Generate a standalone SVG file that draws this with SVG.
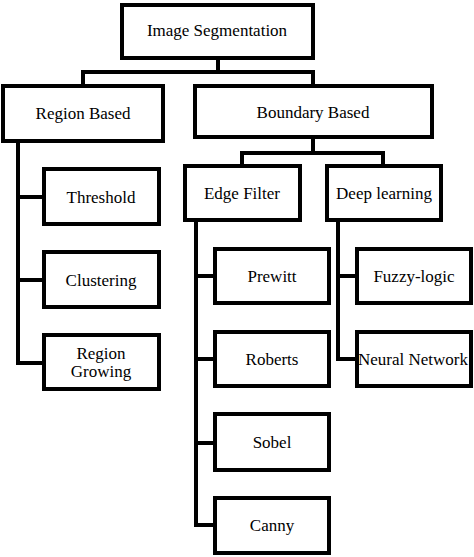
<svg xmlns="http://www.w3.org/2000/svg" width="474" height="557" viewBox="0 0 474 557">
<style>
.box{fill:#fff;stroke:#000;stroke-width:4}
.c{fill:none;stroke:#000;stroke-width:4;stroke-linecap:square;stroke-linejoin:miter}
.t{font-size:17px;fill:#000;text-anchor:middle}
</style>
<rect width="474" height="557" fill="#fff"/>
<g id="connectors">
<path class="c" d="M218 58V72M83 86V72H313V86"/>
<path class="c" d="M18 141V363H44M18 197H44M18 280H44"/>
<path class="c" d="M313 137V153M242 166V153H383V166"/>
<path class="c" d="M196 220V525H215M196 276H215M196 359H215M196 443H215"/>
<path class="c" d="M338 220V359H357M338 276H357"/>
</g>
<g class="t" font-family="'Liberation Serif', 'Times New Roman', 'DejaVu Serif', serif">
<g id="n-image-segmentation"><rect class="box" x="122" y="5" width="191" height="53"/><text x="217" y="36">Image Segmentation</text></g>
<g id="n-region-based"><rect class="box" x="3" y="86" width="160" height="55"/><text x="83" y="119">Region Based</text></g>
<g id="n-boundary-based"><rect class="box" x="195" y="86" width="237" height="51"/><text x="313" y="118">Boundary Based</text></g>
<g id="n-threshold"><rect class="box" x="44" y="169" width="115" height="55"/><text x="101" y="203">Threshold</text></g>
<g id="n-clustering"><rect class="box" x="44" y="252" width="115" height="55"/><text x="101" y="286">Clustering</text></g>
<g id="n-region-growing"><rect class="box" x="44" y="335" width="115" height="54"/><text x="101" y="359">Region</text><text x="101" y="377">Growing</text></g>
<g id="n-edge-filter"><rect class="box" x="185" y="166" width="115" height="54"/><text x="242" y="199">Edge Filter</text></g>
<g id="n-deep-learning"><rect class="box" x="327" y="166" width="114" height="54"/><text x="384" y="199">Deep learning</text></g>
<g id="n-prewitt"><rect class="box" x="215" y="249" width="114" height="54"/><text x="272" y="282">Prewitt</text></g>
<g id="n-roberts"><rect class="box" x="215" y="332" width="114" height="54"/><text x="272" y="365">Roberts</text></g>
<g id="n-sobel"><rect class="box" x="215" y="414" width="114" height="56"/><text x="272" y="448">Sobel</text></g>
<g id="n-canny"><rect class="box" x="215" y="498" width="114" height="55"/><text x="272" y="531">Canny</text></g>
<g id="n-fuzzy-logic"><rect class="box" x="357" y="249" width="114" height="54"/><text x="414" y="282">Fuzzy-logic</text></g>
<g id="n-neural-network"><rect class="box" x="357" y="332" width="114" height="54"/><text x="413" y="365">Neural Network</text></g>
</g>
</svg>
